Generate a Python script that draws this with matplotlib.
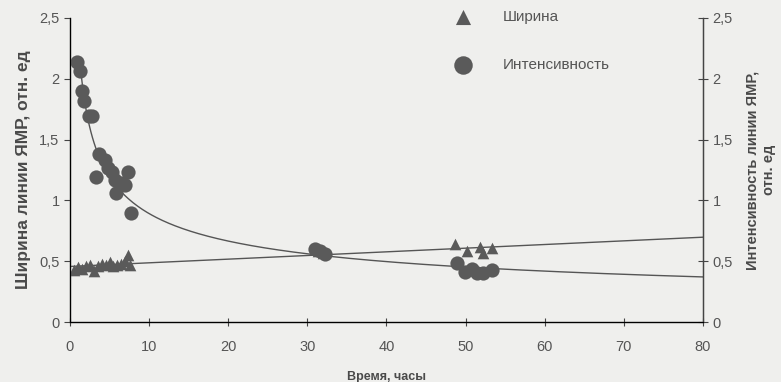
import numpy as np
import matplotlib
matplotlib.use("Agg")
import matplotlib.pyplot as plt
from matplotlib.ticker import FuncFormatter

plt.rcParams['font.family'] = ['Liberation Sans', 'DejaVu Sans']

# Width of NMR line (triangles)
width_t = [0.5, 1.0, 1.5, 2.0, 2.5, 3.0, 3.5, 4.0, 4.5, 5.0, 5.5, 6.0, 6.5, 7.0, 7.3, 7.6,
           31.3, 32.0,
           48.7, 50.2, 51.8, 52.2, 53.3]
width_v = [0.43, 0.45, 0.44, 0.46, 0.47, 0.42, 0.46, 0.48, 0.47, 0.49, 0.46, 0.47, 0.48, 0.50, 0.55, 0.47,
           0.58, 0.57,
           0.64, 0.58, 0.62, 0.57, 0.61]

# Intensity of NMR line (circles)
int_t = [0.9, 1.3, 1.5, 1.8, 2.4, 2.8, 3.7, 4.4, 4.8, 3.3, 5.3, 5.7, 6.6, 7.3, 7.0, 5.8, 7.7,
         31.0, 31.6, 32.2,
         48.9, 49.9, 50.8, 51.5, 52.2, 53.3]
int_v = [2.14, 2.06, 1.90, 1.82, 1.69, 1.69, 1.38, 1.33, 1.27, 1.19, 1.23, 1.17, 1.14, 1.23, 1.13, 1.06, 0.90,
         0.60, 0.58, 0.56,
         0.485, 0.41, 0.44, 0.40, 0.40, 0.43]

yticks = [0, 0.5, 1, 1.5, 2, 2.5]
xticks = [0, 10, 20, 30, 40, 50, 60, 70, 80]

bg = '#efefed'
fig = plt.figure(figsize=(7.81, 3.82), dpi=100, facecolor=bg)
ax = fig.add_axes([0.0896, 0.157, 0.8105, 0.796])
ax.set_facecolor(bg)

mc = '#5a5a5a'
lc = '#555555'

# trend lines computed from the data
p_lin = np.polyfit(width_t, width_v, 1)
xl = np.linspace(0, 80, 200)
ax.plot(xl, np.polyval(p_lin, xl), color=lc, lw=1.0, zorder=2)

b, loga = np.polyfit(np.log(int_t), np.log(int_v), 1)
a = np.exp(loga)
x_start = max(min(int_t), (max(int_v) / a) ** (1.0 / b))
xp = np.linspace(x_start, 80, 400)
ax.plot(xp, a * xp ** b, color=lc, lw=1.0, zorder=2)

ax.scatter(width_t, width_v, marker='^', s=70, color=mc, zorder=3, label='Ширина', linewidths=0)
ax.scatter(int_t, int_v, marker='o', s=105, color=mc, zorder=3, label='Интенсивность', linewidths=0)

ax.set_xlim(0, 80)
ax.set_ylim(0, 2.5)
ax.set_xticks(xticks)
ax.set_yticks(yticks)
fmt = FuncFormatter(lambda v, p: ('%g' % v).replace('.', ','))
ax.yaxis.set_major_formatter(fmt)

ax.spines['top'].set_visible(False)
for s in ['left', 'bottom', 'right']:
    ax.spines[s].set_color('#444444')
    ax.spines[s].set_linewidth(1.0)

ax.tick_params(axis='both', colors='#444444', labelcolor='#555555', labelsize=10.5, length=4)
ax.tick_params(axis='x', direction='inout', length=6, pad=10)

ax2 = ax.twinx()
ax2.set_ylim(0, 2.5)
ax2.set_yticks(yticks)
ax2.yaxis.set_major_formatter(fmt)
ax2.spines['top'].set_visible(False)
ax2.spines['right'].set_color('#444444')
ax2.tick_params(axis='y', direction='inout', length=7, colors='#444444', labelcolor='#555555', labelsize=10.5)

ax.set_ylabel('Ширина линии ЯМР, отн. ед', fontsize=12.5, fontweight='bold', color='#4a4a4a', labelpad=6)
ax.set_xlabel('Время, часы', fontsize=9, fontweight='bold', color='#4a4a4a', labelpad=12)
ax2.set_ylabel('Интенсивность линии ЯМР,\nотн. ед', fontsize=10.5, fontweight='bold', color='#4a4a4a',
               labelpad=9, linespacing=1.25)

leg = ax.legend(loc='upper left', bbox_to_anchor=(0.575, 1.07), frameon=False, labelspacing=2.2,
                handletextpad=1.6, fontsize=11, markerscale=1.3)
for t in leg.get_texts():
    t.set_color('#555555')

fig.savefig('out.png', dpi=100, facecolor=bg)
